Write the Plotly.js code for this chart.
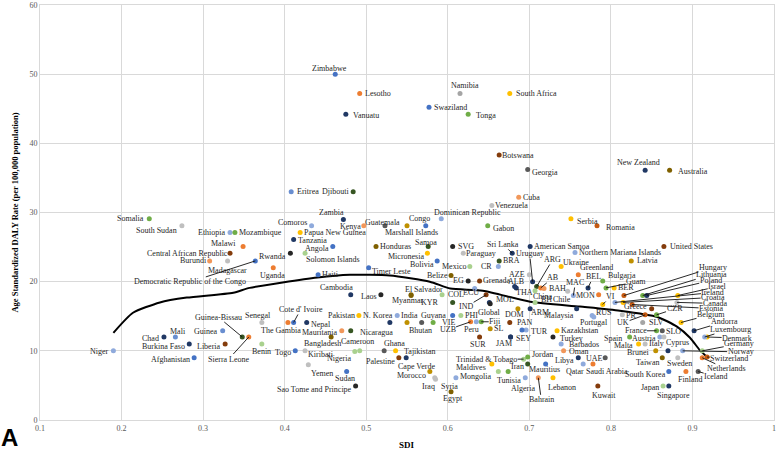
<!DOCTYPE html>
<html>
<head>
<meta charset="utf-8">
<script src="https://cdn.plot.ly/plotly-3.0.1.min.js"></script>
<style>
html, body { margin: 0; padding: 0; background: #fff; }
#chart { width: 777px; height: 451px; }
</style>
</head>
<body>
<div id="chart"></div>
<script>
'use strict';

// ---------- data (SDI, age-standardized DALY rate) ----------
// lowest SDI countries
const lowNames = ['Niger', 'Chad', 'Mali', 'Burkina Faso', 'Afghanistan', 'Guinea', 'Liberia', 'Guinea-Bissau', 'Sierra Leone', 'Somalia',
    'South Sudan', 'Ethiopia', 'Mozambique', 'Malawi', 'Central African Republic', 'Burundi', 'Madagascar', 'Democratic Republic of the Congo', 'Senegal', 'Benin'];
const lowSdi = [0.190, 0.252, 0.266, 0.283, 0.289, 0.324, 0.327, 0.348, 0.356, 0.234, 0.274, 0.333, 0.339, 0.349, 0.333, 0.308, 0.330, 0.364, 0.372, 0.372];
const lowDaly = [10.0, 12.0, 12.0, 11.0, 9.0, 12.9, 11.0, 12.0, 12.0, 29.1, 28.1, 27.1, 27.1, 25.1, 24.1, 23.0, 23.0, 23.0, 14.1, 11.0];

// low-middle SDI, high burden
const lmNames = ['Uganda', 'Rwanda', 'Eritrea', 'Djibouti', 'Zambia', 'Comoros', 'Kenya', 'Papua New Guinea', 'Tanzania', 'Angola',
    'Solomon Islands', 'Haiti', 'Timer Leste', 'Cambodia', 'Laos', 'Zimbabwe', 'Lesotho', 'Vanuatu'];
const lmSdi = [0.386, 0.407, 0.408, 0.484, 0.472, 0.433, 0.497, 0.419, 0.411, 0.459, 0.425, 0.441, 0.503, 0.481, 0.518, 0.462, 0.492, 0.475];
const lmDaly = [22.0, 24.1, 33.0, 33.0, 29.0, 28.1, 28.1, 27.1, 26.1, 25.1, 24.1, 21.0, 22.0, 18.1, 18.1, 50.0, 47.2, 44.2];

// middle SDI, above the curve
const midNames = ['Guatemala', 'Marshall Islands', 'Congo', 'Dominican Republic', 'Honduras', 'Samoa', 'Micronesia', 'Bolivia', 'El Salvador', 'Myanmar',
    'Swaziland', 'Namibia', 'Tonga', 'South Africa', 'Botswana', 'Georgia', 'Cuba', 'Venezuela', 'Gabon', 'SVG', 'Paraguay', 'Belize'];
const midSdi = [0.523, 0.550, 0.573, 0.592, 0.512, 0.576, 0.575, 0.587, 0.555, 0.555, 0.577, 0.615, 0.625, 0.676, 0.663, 0.698, 0.687, 0.654, 0.649, 0.606, 0.619, 0.604];
const midDaly = [28.1, 28.1, 28.1, 29.1, 25.1, 25.1, 24.1, 23.0, 18.1, 18.0, 45.2, 47.2, 44.2, 47.2, 38.3, 36.2, 32.2, 31.0, 28.1, 25.1, 24.1, 20.9];

// low-middle SDI, below the curve ('' = dot without a label)
const belowNames = ["Cote d' Ivoire", 'The Gambia', 'Nepal', 'Mauritania', 'Nicaragua', 'Bangladesh', 'Pakistan', 'Togo', 'Kiribati', 'Cameroon',
    'Nigeria', 'Yemen', 'Sudan', 'Sao Tome and Principe', 'N. Korea', 'India', '', 'Bhutan', 'Ghana', 'Tajikistan',
    'Palestine', '', 'Cape Verde', 'Morocco', 'Iraq', 'Syria', 'Egypt'];
const belowSdi = [0.411, 0.404, 0.427, 0.470, 0.481, 0.457, 0.491, 0.413, 0.425, 0.492, 0.486, 0.429, 0.476, 0.487, 0.529, 0.538, 0.550, 0.568, 0.522, 0.536,
    0.540, 0.549, 0.578, 0.584, 0.585, 0.610, 0.604];
const belowDaly = [14.1, 14.1, 14.1, 12.9, 12.9, 12.0, 15.1, 10.0, 10.0, 10.0, 9.9, 8.0, 7.0, 4.9, 14.1, 15.1, 14.1, 14.1, 10.0, 10.0,
    9.0, 9.0, 7.0, 6.1, 5.9, 6.1, 4.1];

// high-middle SDI cluster around the curve
const centreNames = ['Mexico', 'CR', 'BRA', 'EG', 'Grenada', 'ECU', 'COL', 'KYR', 'IND', 'MOL',
    'Global', 'Guyana', 'VIE', 'PHI', 'UZB', 'Peru', 'Fiji', 'SL', 'SUR', 'SEY',
    'JAM', 'PAN', 'DOM', 'ARM', 'TUR', '', 'AZE', 'Sri Lanka', 'Uruguay', 'American Samoa',
    'ARG', 'AB', 'BAH', 'China', 'THA', 'ALB', 'BH', 'Chile', 'MAC', 'BEL',
    'MON', 'VI', 'RUS', 'Malaysia', 'Portugal'];
const centreSdi = [0.627, 0.662, 0.663, 0.625, 0.639, 0.633, 0.593, 0.606, 0.647, 0.651,
    0.652, 0.582, 0.606, 0.616, 0.628, 0.635, 0.641, 0.652, 0.639, 0.677,
    0.677, 0.676, 0.686, 0.701, 0.696, 0.691, 0.700, 0.679, 0.704, 0.701,
    0.709, 0.714, 0.718, 0.707, 0.684, 0.682, 0.707, 0.747, 0.754, 0.772,
    0.785, 0.790, 0.777, 0.758, 0.779];
const centreDaly = [22.2, 22.2, 23.0, 20.1, 20.1, 19.0, 18.1, 17.0, 18.1, 17.0,
    16.8, 14.1, 15.1, 15.1, 14.2, 14.2, 14.2, 13.2, 12.0, 12.0,
    12.0, 14.1, 16.1, 16.1, 13.0, 13.0, 21.0, 24.1, 20.0, 25.1,
    19.3, 19.1, 19.0, 18.7, 19.1, 19.3, 17.0, 18.6, 18.0, 19.1,
    18.1, 16.7, 15.1, 16.1, 14.9];

// high-middle SDI, low burden
const mideastNames = ['Kazakhstan', 'Turkey', 'Barbados', 'Oman', 'Trinidad & Tobago', 'Jordan', 'Iran', 'Maldives', 'Mongolia', 'Tunisia',
    'Algeria', 'Mauritius', 'Bahrain', 'Lebanon', 'Libya', 'Qatar', 'UAE', 'Saudi Arabia', 'Kuwait'];
const mideastSdi = [0.734, 0.729, 0.739, 0.742, 0.693, 0.698, 0.698, 0.654, 0.662, 0.674, 0.695, 0.720, 0.711, 0.729, 0.760, 0.766, 0.778, 0.793, 0.784];
const mideastDaly = [12.9, 12.0, 11.0, 10.0, 8.8, 9.1, 8.1, 8.1, 7.0, 7.0, 6.1, 8.1, 6.1, 6.1, 9.0, 8.1, 8.1, 9.0, 4.9];

// high SDI, above the curve
const upperNames = ['Serbia', 'Romania', 'Northern Mariana Islands', 'Ukraine', 'Greenland', 'Bulgaria', 'Guam', 'BER', 'Latvia', 'United States', 'New Zealand', 'Australia'];
const upperSdi = [0.751, 0.783, 0.756, 0.739, 0.760, 0.790, 0.794, 0.804, 0.825, 0.865, 0.842, 0.872];
const upperDaly = [29.1, 28.1, 24.2, 22.2, 21.0, 20.1, 19.1, 19.1, 23.0, 25.1, 36.1, 36.1];

// high SDI cluster
const highNames = ['Hungary', 'Lithuania', 'Poland', 'Israel', 'Ireland', 'Croatia', 'Canada', 'Estonia', 'Greece', 'CZR',
    'PR', 'UK', 'SLV', 'France', 'SLO', 'Spain', 'Austria', 'Cyprus', 'Malta', 'Italy',
    'Brunei', '', 'Taiwan', 'Sweden', 'South Korea', 'Japan', 'Singapore', 'Finland', 'Iceland', 'Netherlands',
    'Switzerland', 'Norway', 'Germany', 'Denmark', 'Luxembourg', 'Andorra', 'Belgium'];
const highSdi = [0.816, 0.839, 0.844, 0.882, 0.805, 0.815, 0.881, 0.826, 0.850, 0.856,
    0.814, 0.842, 0.839, 0.856, 0.863, 0.823, 0.860, 0.865, 0.834, 0.842,
    0.855, 0.870, 0.863, 0.882, 0.871, 0.864, 0.871, 0.892, 0.907, 0.912,
    0.918, 0.888, 0.912, 0.918, 0.915, 0.902, 0.886];
const highDaly = [18.0, 18.0, 18.0, 18.0, 17.0, 17.0, 17.0, 16.7, 16.1, 15.2,
    15.2, 15.2, 14.1, 12.9, 12.9, 12.0, 12.0, 12.0, 11.0, 11.0,
    10.0, 10.0, 9.0, 9.0, 7.0, 4.9, 4.9, 7.0, 7.0, 9.0,
    9.1, 10.0, 10.0, 12.0, 12.0, 12.9, 14.1];

// expected values by SDI (black curve)
const curveSdi = [0.190, 0.214, 0.247, 0.280, 0.337, 0.357, 0.440, 0.480, 0.529, 0.578, 0.603, 0.643, 0.701, 0.762, 0.811, 0.857, 0.881, 0.897, 0.909, 0.918];
const curveDaly = [12.6, 15.5, 17.0, 17.7, 18.4, 19.1, 20.6, 21.0, 20.9, 20.0, 19.0, 18.7, 17.1, 16.4, 15.8, 14.9, 13.5, 11.9, 10.1, 9.1];

// ---------- styles ----------
const PAL = {
    N: '#203864', B: '#4472C4', L: '#8FAADC', P: '#698ED0', O: '#ED7D31', T: '#F1975A',
    G: '#A5A5A5', g: '#BFBFBF', Y: '#FFC000', V: '#70AD47', v: '#A9D18E', D: '#375623',
    R: '#843C0C', r: '#C55A11', K: '#262626', k: '#595959', W: '#BF9000', w: '#7F6000'
};
const lowCols = 'LNPNBPRDOVgLVORTgBgv';
const lmCols = 'OKPDNLTYNBvBBNKBON';
const midCols = 'kWBLwDYBwwBGVYRkTgVKgw';
const belowCols = 'BONTDwYBgvvgBKNLWkkYRNWggLw';
const centreCols = 'vLDKRLvDRNKVBvOLVWRNNRWNLBgNNNDOTvNNvgLNOYLNL';
const mideastCols = 'YKLTvVDYvVLBTYNLOkR';
const upperCols = 'YrLYOVVYWRNw';
const highCols = 'rVNYLYgrRVgrGVkVLgYgWNwgBvNOkOrLvYLNY';

// label placement: [dx, dy, anchor] in px; anchor l/r/c = text side, a = leader line (dx, dy = label centre)
const LABEL = {
    'Niger': [-3, 1, 'r'], 'Chad': [-4, 1, 'r'], 'Mali': [3, -6, 'c'], 'Burkina Faso': [-3, 3, 'r'], 'Afghanistan': [-3, 2, 'r'],
    'Guinea': [-4, 1, 'r'], 'Liberia': [-3, 3, 'r'], 'Guinea-Bissau': [-24, -20, 'a'], 'Sierra Leone': [-20, 22, 'a'],
    'Somalia': [-4, 0, 'r'], 'South Sudan': [-4, 5, 'r'], 'Ethiopia': [-3, 0, 'r'], 'Mozambique': [3, 0, 'l'], 'Malawi': [-6, -3, 'r'],
    'Central African Republic': [-1, 0, 'r'], 'Burundi': [-2, 0, 'r'], 'Madagascar': [0, 10, 'c'],
    'Democratic Republic of the Congo': [-65, 21, 'a'], 'Senegal': [-4, -7, 'c'], 'Benin': [0, 8, 'c'],
    'Uganda': [-1, 8, 'c'], 'Rwanda': [-3, 3, 'r'], 'Eritrea': [5, 0, 'l'], 'Djibouti': [-3, 0, 'r'], 'Zambia': [-12, -7, 'c'],
    'Comoros': [-4, -3, 'r'], 'Kenya': [-2, 1, 'r'], 'Papua New Guinea': [3, 0, 'l'], 'Tanzania': [3, 1, 'l'], 'Angola': [-3, 2, 'r'],
    'Solomon Islands': [0, 6, 'l'], 'Haiti': [3, 0, 'l'], 'Timer Leste': [2, 4, 'l'], 'Cambodia': [-14, -7, 'c'], 'Laos': [-3, 2, 'r'],
    'Zimbabwe': [-6, -6, 'c'], 'Lesotho': [4, 0, 'l'], 'Vanuatu': [6, 1, 'l'],
    'Guatemala': [-2, -3, 'c'], 'Marshall Islands': [4, 7, 'c'], 'Congo': [-6, -7, 'c'], 'Dominican Republic': [-8, -6, 'l'],
    'Honduras': [3, 0, 'l'], 'Samoa': [-2, -4, 'c'], 'Micronesia': [-2, 3, 'r'], 'Bolivia': [-2, 4, 'r'], 'El Salvador': [13, -5, 'c'],
    'Myanmar': [-4, 5, 'c'], 'Swaziland': [4, 0, 'l'], 'Namibia': [5, -8, 'c'], 'Tonga': [7, 1, 'l'], 'South Africa': [5, 0, 'l'],
    'Botswana': [2, 0, 'l'], 'Georgia': [3, 3, 'l'], 'Cuba': [3, 0, 'l'], 'Venezuela': [2, 0, 'l'], 'Gabon': [4, 3, 'l'],
    'SVG': [4, 0, 'l'], 'Paraguay': [2, 0, 'l'], 'Belize': [-2, 0, 'r'],
    "Cote d' Ivoire": [7, -13, 'a'], 'The Gambia': [-7, 8, 'c'], 'Nepal': [3, 2, 'l'], 'Mauritania': [-3, 2, 'r'], 'Nicaragua': [8, 2, 'l'],
    'Bangladesh': [-9, 6, 'c'], 'Pakistan': [-3, 0, 'r'], 'Togo': [-3, 2, 'r'], 'Kiribati': [2, 4, 'l'], 'Cameroon': [-2, -9, 'c'],
    'Nigeria': [-3, 7, 'r'], 'Yemen': [14, 9, 'c'], 'Sudan': [-2, 7, 'c'], 'Sao Tome and Principe': [-3, 3, 'r'], 'N. Korea': [-12, -7, 'c'],
    'India': [3, 0, 'l'], 'Bhutan': [-1, 8, 'c'], 'Ghana': [10, -7, 'c'], 'Tajikistan': [7, 1, 'l'], 'Palestine': [-3, 4, 'r'],
    'Cape Verde': [-13, -5, 'c'], 'Morocco': [-8, -2, 'r'], 'Iraq': [-7, 7, 'c'], 'Syria': [-6, 9, 'c'], 'Egypt': [2, 7, 'c'],
    'Mexico': [-3, 0, 'r'], 'CR': [-5, 0, 'r'], 'BRA': [3, 0, 'l'], 'EG': [-3, 0, 'r'], 'Grenada': [2, 0, 'l'], 'ECU': [-4, 4, 'c'],
    'COL': [5, 0, 'l'], 'KYR': [-13, 0, 'r'], 'IND': [-20, 12, 'a'], 'MOL': [6, -3, 'l'], 'Global': [-1, 9, 'c'], 'Guyana': [0, -7, 'c'],
    'VIE': [-4, 7, 'c'], 'PHI': [3, 0, 'l'], 'UZB': [-23, 8, 'a'], 'Peru': [-5, 8, 'c'], 'Fiji': [14, 0, 'a'], 'SL': [3, 0, 'l'],
    'SUR': [-2, 7, 'c'], 'SEY': [4, 1, 'l'], 'JAM': [-7, 6, 'c'], 'PAN': [6, 0, 'l'], 'DOM': [-3, 6, 'c'], 'ARM': [0, 4, 'l'],
    'TUR': [4, 1, 'l'], 'AZE': [-3, 0, 'r'], 'Sri Lanka': [-9, -9, 'a'], 'Uruguay': [-3, -28, 'a'], 'American Samoa': [3, 0, 'l'],
    'ARG': [16, -27, 'a'], 'AB': [12, -10, 'a'], 'BAH': [4, 0, 'l'], 'China': [8, 6, 'c'], 'THA': [8, 5, 'c'], 'ALB': [1, -5, 'c'],
    'BH': [5, -3, 'l'], 'Chile': [-6, 8, 'c'], 'MAC': [2, -13, 'a'], 'BEL': [5, -11, 'a'], 'MON': [-3, 1, 'r'], 'VI': [8, -8, 'a'],
    'RUS': [3, -3, 'l'], 'Malaysia': [-2, 7, 'r'], 'Portugal': [0, 6, 'c'],
    'Kazakhstan': [3, 0, 'l'], 'Turkey': [6, 1, 'l'], 'Barbados': [7, 1, 'l'], 'Oman': [4, 1, 'l'], 'Trinidad & Tobago': [-37, 0, 'a'],
    'Jordan': [3, -3, 'l'], 'Iran': [-3, 3, 'r'], 'Maldives': [-5, 4, 'r'], 'Mongolia': [-5, 5, 'r'], 'Tunisia': [1, 9, 'c'],
    'Algeria': [-2, 11, 'c'], 'Mauritius': [-1, 6, 'c'], 'Bahrain': [3, 22, 'a'], 'Lebanon': [9, 10, 'c'], 'Libya': [-3, 3, 'r'],
    'Qatar': [-8, 8, 'c'], 'UAE': [2, -5, 'c'], 'Saudi Arabia': [2, 14, 'c'], 'Kuwait': [6, 9, 'c'],
    'Serbia': [5, 3, 'l'], 'Romania': [8, 2, 'l'], 'Northern Mariana Islands': [3, 0, 'l'], 'Ukraine': [1, -4, 'l'],
    'Greenland': [1, -7, 'l'], 'Bulgaria': [4, -5, 'l'], 'Guam': [30, -6, 'a'], 'BER': [3, 0, 'l'], 'Latvia': [5, 0, 'l'],
    'United States': [5, 0, 'l'], 'New Zealand': [-7, -8, 'c'], 'Australia': [7, 1, 'l'],
    'Hungary': [89, -28, 'a'], 'Lithuania': [69, -21, 'a'], 'Poland': [64, -15, 'a'], 'Israel': [40, -9, 'a'], 'Ireland': [98, -10, 'a'],
    'Croatia': [90, -5, 'a'], 'Canada': [38, 1, 'a'], 'Estonia': [79, 4, 'a'], 'Greece': [-4, -2, 'r'], 'CZR': [18, -6, 'a'],
    'PR': [3, 1, 'l'], 'UK': [-22, 8, 'a'], 'SLV': [5, 0, 'l'], 'France': [-21, 0, 'a'], 'SLO': [3, 1, 'l'], 'Spain': [-7, 1, 'r'],
    'Austria': [-3, 1, 'r'], 'Cyprus': [1, 5, 'l'], 'Malta': [-5, 2, 'r'], 'Italy': [3, 0, 'l'], 'Brunei': [-5, 2, 'r'],
    'Taiwan': [-2, 5, 'r'], 'Sweden': [2, 6, 'c'], 'South Korea': [-2, 3, 'r'], 'Japan': [-3, 1, 'r'], 'Singapore': [5, 9, 'c'],
    'Finland': [4, 8, 'c'], 'Iceland': [18, 5, 'a'], 'Netherlands': [24, 11, 'a'], 'Switzerland': [22, 1, 'a'], 'Norway': [58, 1, 'a'],
    'Germany': [37, -7, 'a'], 'Denmark': [30, 1, 'a'], 'Luxembourg': [26, -8, 'a'], 'Andorra': [30, -9, 'a'], 'Belgium': [30, -8, 'a']
};

// ---------- build ----------
const groups = [
    [lowNames, lowSdi, lowDaly, lowCols],
    [lmNames, lmSdi, lmDaly, lmCols],
    [midNames, midSdi, midDaly, midCols],
    [belowNames, belowSdi, belowDaly, belowCols],
    [centreNames, centreSdi, centreDaly, centreCols],
    [mideastNames, mideastSdi, mideastDaly, mideastCols],
    [upperNames, upperSdi, upperDaly, upperCols],
    [highNames, highSdi, highDaly, highCols]
];

const names = [], xs = [], ys = [], cols = [];
groups.forEach(([n, x, y, c]) => {
    n.forEach((nm, i) => { names.push(nm); xs.push(x[i]); ys.push(y[i]); cols.push(PAL[c[i]] || '#888'); });
});

const labelFont = { family: 'Liberation Serif, Times New Roman, serif', size: 8, color: '#262626' };
const annotations = [];
names.forEach((nm, i) => {
    if (!nm) return;
    const p = LABEL[nm] || [4, 0, 'l'];
    if (p[2] === 'a') {
        annotations.push({ x: xs[i], y: ys[i], text: nm, showarrow: true, arrowhead: 0, arrowwidth: 0.9, arrowcolor: '#111',
            ax: p[0], ay: p[1], standoff: 0, font: labelFont, borderpad: 0 });
    } else {
        annotations.push({ x: xs[i], y: ys[i], text: nm, showarrow: false, font: labelFont, borderpad: 0,
            xanchor: p[2] === 'l' ? 'left' : p[2] === 'r' ? 'right' : 'center', yanchor: 'middle',
            xshift: p[0], yshift: -p[1] });
    }
});

// axis titles and panel letter, placed on the paper
const titleFont = { family: 'Liberation Serif, Times New Roman, serif', size: 8.5, color: '#000' };
annotations.push({ xref: 'paper', yref: 'paper', x: -0.0354, y: 0.5, text: '<b>Age Standardized DALY Rate (per 100,000 population)</b>',
    textangle: -90, showarrow: false, xanchor: 'center', yanchor: 'middle', font: titleFont });
annotations.push({ xref: 'paper', yref: 'paper', x: 0.5, y: -0.060, text: '<b>SDI</b>',
    showarrow: false, xanchor: 'center', yanchor: 'middle', font: { family: titleFont.family, size: 9, color: '#000' } });
annotations.push({ xref: 'paper', yref: 'paper', x: -0.041, y: -0.041, text: '<b>A</b>', showarrow: false,
    xanchor: 'center', yanchor: 'middle', font: { family: 'Liberation Sans, Arial, sans-serif', size: 24, color: '#000' } });

const traces = [
    { x: curveSdi, y: curveDaly, type: 'scatter', mode: 'lines', line: { color: '#000', width: 2, shape: 'spline', smoothing: 0.6 }, hoverinfo: 'skip' },
    { x: xs, y: ys, text: names, type: 'scatter', mode: 'markers', marker: { size: 5, color: cols }, hoverinfo: 'text' }
];

const tickFont = { family: 'Liberation Serif, Times New Roman, serif', size: 8, color: '#595959' };
const layout = {
    width: 777, height: 451,
    margin: { l: 40, r: 3, t: 5, b: 31 },
    paper_bgcolor: '#fff', plot_bgcolor: '#fff',
    showlegend: false,
    font: tickFont,
    xaxis: {
        range: [0.1, 1], dtick: 0.1, tick0: 0.1, showgrid: true, gridcolor: '#d9d9d9', gridwidth: 1,
        zeroline: false, showline: true, linecolor: '#d9d9d9', mirror: true, ticks: '',
        tickfont: tickFont
    },
    yaxis: {
        range: [0, 60], dtick: 10, showgrid: true, gridcolor: '#d9d9d9', gridwidth: 1,
        zeroline: false, showline: true, linecolor: '#d9d9d9', mirror: true, ticks: '',
        tickfont: tickFont
    },
    annotations: annotations
};

Plotly.newPlot('chart', traces, layout, { displayModeBar: false, staticPlot: true });
</script>
</body>
</html>
